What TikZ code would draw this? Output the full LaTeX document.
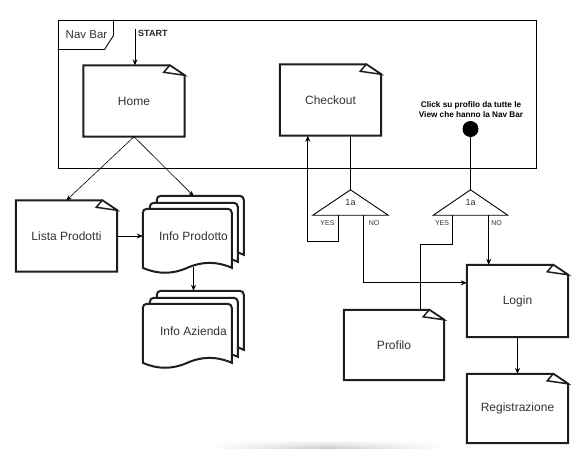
\documentclass[tikz,border=0pt]{standalone}
\usepackage{fontspec}
\setmainfont{Liberation Sans}
\usetikzlibrary{arrows.meta,calc,fadings}
\definecolor{boxline}{HTML}{1E1E1E}
\definecolor{labeltext}{HTML}{333333}
\pgfdeclarelayer{background}
\pgfsetlayers{background,main}
\tikzfading[name=softband,
  left color=transparent!100, right color=transparent!100, middle color=transparent!0]

% note card outline with folded top-right corner
\newcommand\notecard[1]{%
  \draw[cardline] (#1.north west) -- ($(#1.north east)+(-15,0)$) -- ($(#1.north east)+(0,10)$)
    -- (#1.south east) -- (#1.south west) -- cycle;
  \draw[cardline,fill=white,line width=1.5pt] ($(#1.north east)+(-15,0)$) -- ($(#1.north east)+(-21,7)$)
    -- ($(#1.north east)+(0,10)$) -- cycle;
}
% one page of a document stack: node, left offset, width, top offset
\newcommand\docpage[4]{%
  \draw[cardline,fill=white]
    ($(#1.north west)+(#2,#4+30)$) [rounded corners=4pt] -- ($(#1.north west)+(#2,#4)$)
    -- ($(#1.north west)+(#2+#3,#4)$) -- ($(#1.north west)+(#2+#3,#4+8)$) [sharp corners]
    -- ($(#1.north west)+(#2+#3,#4+59)$)
    .. controls ($(#1.north west)+(#2+#3-#3/6,#4+52.4)$) and ($(#1.north west)+(#2+#3/2+#3/6,#4+52.4)$)
    .. ($(#1.north west)+(#2+#3/2,#4+59)$)
    .. controls ($(#1.north west)+(#2+#3/2-#3/6,#4+65.6)$) and ($(#1.north west)+(#2+#3/6,#4+65.6)$)
    .. ($(#1.north west)+(#2,#4+59)$) -- cycle;
}
\newcommand\docstack[1]{%
  \docpage{#1}{14}{87}{0}%
  \docpage{#1}{7}{88}{7}%
  \docpage{#1}{0}{89}{13}%
}

\begin{document}
\begin{tikzpicture}[x=1pt,y=-1pt,
  card/.style={minimum width=101pt,minimum height=71pt,inner sep=0pt,
    font=\fontsize{12}{14}\selectfont,text=labeltext},
  docs/.style={minimum width=101pt,minimum height=80pt,inner sep=0pt,
    font=\fontsize{12}{14}\selectfont,text=labeltext},
  cardline/.style={draw=boxline,line width=2pt},
  wire/.style={draw=black,line width=0.9pt},
  flow/.style={wire,-{Stealth[length=6pt,width=5pt]}},
  fineflow/.style={draw=black,line width=0.6pt,-{Stealth[length=5pt,width=4.5pt]}},
  branch/.style={minimum width=75pt,minimum height=25pt,inner sep=0pt,
    font=\fontsize{9}{10}\selectfont,text=labeltext},
  tag/.style={font=\fontsize{7}{8}\selectfont,inner sep=0pt,text=labeltext},
]
\useasboundingbox (0,0) rectangle (573,448);

% Nav Bar frame
\node[draw=black,line width=1pt,minimum width=478pt,minimum height=148pt,inner sep=0pt] (navbar) at (297,94) {};
\draw[black,line width=0.9pt] ($(navbar.north west)+(0,30)$) -- ($(navbar.north west)+(47,30)$)
  -- ($(navbar.north west)+(56,16)$) -- ($(navbar.north west)+(56,0)$);
\node[font=\fontsize{11.5}{13}\selectfont,text=labeltext,inner sep=0pt] (navlabel)
  at ($(navbar.north west)+(29,15.5)$) {Nav Bar};

% cards
\node[card] (home) at (134,101) {Home};
\node[card] (checkout) at (330.5,100) {Checkout};
\node[card] (lista) at (66.5,236) {Lista Prodotti};
\node[card,minimum height=72pt] (login) at (517.5,301) {Login};
\node[card,minimum height=69pt] (registrazione) at (517.5,408.5) {Registrazione};
\node[card,minimum width=100pt,minimum height=70pt] (profilo) at (394,345) {Profilo};
\foreach \n in {home,checkout,lista,login,registrazione,profilo} {\notecard{\n}}

% document stacks
\node[docs] (iprod) at (193.5,236) {Info Prodotto};
\node[docs] (iaz) at (193.5,331) {Info Azienda};
\begin{pgfonlayer}{background}
  \fill[white] (0,0) rectangle (573,448);
  \docstack{iprod}
  \docstack{iaz}
  % soft shadow strip along the lower edge
  \shade[top color=white,bottom color=black!20,path fading=softband] (210,440) rectangle (444,448);
\end{pgfonlayer}

% start
\coordinate (start) at (135,29);
\node[font=\bfseries\fontsize{9}{10}\selectfont,text=black!85,anchor=west,inner sep=0pt] (startlabel) at (138,33.5) {START};
\draw[flow] (start) -- (start |- home.north);

% profile trigger
\node[font=\bfseries\fontsize{8.2}{9.5}\selectfont,align=center,inner sep=0pt] (hint) at (471,109.5)
  {Click su profilo da tutte le\\View che hanno la Nav Bar};
\node[circle,fill=black,minimum size=16pt,inner sep=0pt] (dot) at (470.5,129) {};

% decisions
\node[branch] (tri1) at (350.5,202.5) {1a};
\node[branch,minimum width=74pt] (tri2) at (470.5,202.5) {1a};
\foreach \t in {tri1,tri2}
  \draw[black,line width=0.9pt] (\t.north) -- (\t.south east) -- (\t.south west) -- cycle;
\node[tag] (yes1) at (327.5,223.5) {YES};
\node[tag] (no1) at (374,223.5) {NO};
\node[tag] (yes2) at (442,223.5) {YES};
\node[tag] (no2) at (496.5,223.5) {NO};

% connectors
\draw[fineflow] (home.south) -- (lista.north);
\draw[fineflow] (home.south) -- (iprod.north);
\draw[flow] (lista.east) -- (lista.east -| iprod.west);
\coordinate (iprodout) at ($(iprod.north)+(0,71)$);
\draw[flow] (iprodout) -- (iaz.north);

\draw[wire] (checkout.south -| tri1.north) -- (tri1.north);
\coordinate (yesonestart) at ($(tri1.south west)+(26,0)$);
\coordinate (yesoneturn) at ($(tri1.south west)+(-5,26)$);
\draw[flow] (yesonestart) |- (yesoneturn) -- (yesoneturn |- checkout.south);
\coordinate (noonestart) at ($(tri1.south)+(12.5,0)$);
\coordinate (loginin) at ($(login.north west)+(0,18)$);
\draw[flow] (noonestart) |- (loginin);

\draw[wire] (dot) -- (tri2.north);
\coordinate (yestwostart) at ($(tri2.south west)+(19,0)$);
\coordinate (profin) at ($(profilo.north east)+(-24,0)$);
\draw[wire] (yestwostart) -- ++(0,29) -| (profin);
\coordinate (notwostart) at ($(tri2.south east)+(-19,0)$);
\draw[flow] (notwostart) -- (notwostart |- login.north);
\draw[flow] (login.south) -- (registrazione.north);
\end{tikzpicture}
\end{document}
